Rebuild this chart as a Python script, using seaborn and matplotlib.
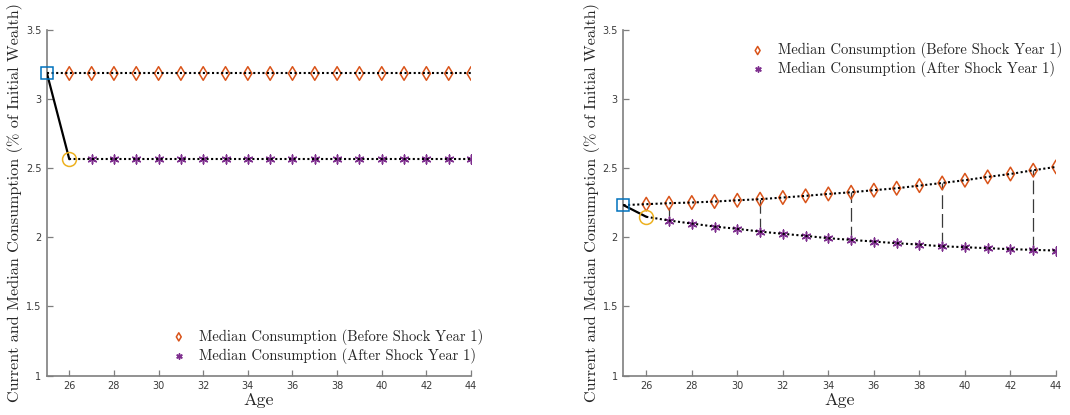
import numpy as np
import pandas as pd
import matplotlib
matplotlib.use("Agg")
import matplotlib.pyplot as plt
import seaborn as sns

# ---- data ----
ages = list(range(25, 45))

# Panel 1: flat profiles
left_current_before = 3.183
left_current_after = 2.564
left_before = [3.183] * 19          # ages 26..44
left_after = [2.564] * 18           # ages 27..44

# Panel 2: diverging profiles
right_current_before = 2.232
right_current_after = 2.148
right_before = [2.239, 2.246, 2.251, 2.258, 2.267, 2.275, 2.287, 2.299, 2.313, 2.325,
                2.340, 2.354, 2.373, 2.392, 2.412, 2.436, 2.457, 2.484, 2.508]
right_after = [2.121, 2.099, 2.077, 2.061, 2.041, 2.025, 2.010, 1.993, 1.981, 1.969,
               1.957, 1.947, 1.935, 1.928, 1.921, 1.914, 1.909, 1.904]
gap_ages = [27, 31, 35, 39, 43]

xticks = list(range(26, 45, 2))
yticks = [1, 1.5, 2, 2.5, 3, 3.5]
ytick_labels = ["1", "1.5", "2", "2.5", "3", "3.5"]

legend_labels = ["Median Consumption (Before Shock Year 1)",
                 "Median Consumption (After Shock Year 1)"]
ylabel = "Current and Median Consumption (% of Initial Wealth)"
xlabel = "Age"

# ---- style ----
sns.set_style("white")
plt.rcParams["font.family"] = ["DejaVu Sans"]

C_BEFORE = "#D95319"
C_AFTER = "#7E2F8E"
C_SQUARE = "#0072BD"
C_CIRCLE = "#EDB120"
AXIS_GRAY = "#7f7f7f"
SERIF = ["cmr10", "DejaVu Serif"]
ASTER = (6, 2, 0)

fig = plt.figure(figsize=(10.7, 4.15), dpi=100)
ax_l = fig.add_axes([0.0439, 0.0947, 0.3963, 0.834])
ax_r = fig.add_axes([0.5827, 0.0947, 0.4042, 0.834])


def draw_panel(ax, cur_b, cur_a, before, after, gaps):
    a_before = ages[1:]
    a_after = ages[2:]
    before_all = [cur_b] + before
    after_all = [cur_a] + after

    # vertical gap markers between the two profiles
    for g in gaps:
        yb = before_all[ages.index(g)]
        ya = after_all[ages.index(g) - 1]
        ax.plot([g, g], [ya, yb], color="#3a3a3a", lw=0.9,
                linestyle=(0, (11, 4)), zorder=1)

    sns.scatterplot(x=a_before, y=before, ax=ax, marker="d", s=48,
                    facecolor="none", edgecolor=C_BEFORE, linewidth=1.1,
                    zorder=2, label=legend_labels[0])
    sns.scatterplot(x=a_after, y=after, ax=ax, marker=ASTER, s=40,
                    color=C_AFTER, edgecolor=C_AFTER, linewidth=1.1,
                    zorder=2, label=legend_labels[1])

    # dotted profile lines drawn over the markers
    sns.lineplot(x=ages, y=before_all, ax=ax, color="black", lw=1.5,
                 linestyle=(0, (1, 1.2)), zorder=3, legend=False)
    sns.lineplot(x=ages[1:], y=after_all, ax=ax, color="black", lw=1.5,
                 linestyle=(0, (1, 1.2)), zorder=3, legend=False)

    # current consumption jump
    ax.plot([25, 26], [cur_b, cur_a], color="black", lw=1.6, zorder=4)
    ax.plot([25], [cur_b], marker="s", ms=8.5, mfc="none", mec=C_SQUARE,
            mew=1.1, zorder=5, clip_on=False)
    ax.plot([26], [cur_a], marker="o", ms=10, mfc="none", mec=C_CIRCLE,
            mew=1.1, zorder=5, clip_on=False)

    ax.set_xlim(25, 44)
    ax.set_ylim(1, 3.5)
    ax.set_xticks(xticks)
    ax.set_yticks(yticks)
    ax.set_yticklabels(ytick_labels)
    for s in ["top", "right"]:
        ax.spines[s].set_visible(False)
    for s in ["left", "bottom"]:
        ax.spines[s].set_color(AXIS_GRAY)
        ax.spines[s].set_linewidth(1.2)
    ax.tick_params(direction="in", length=4, width=0.9, color=AXIS_GRAY,
                   labelsize=7, labelcolor="#3a3a3a", pad=4, left=True,
                   bottom=True)
    ax.set_xlabel(xlabel, family=SERIF, fontsize=13, labelpad=1)
    ax.set_ylabel(ylabel, family=SERIF, fontsize=11.7, labelpad=2)


draw_panel(ax_l, left_current_before, left_current_after, left_before,
           left_after, [])
draw_panel(ax_r, right_current_before, right_current_after, right_before,
           right_after, gap_ages)

for ax, anchor in [(ax_l, (0.148, 0.222)), (ax_r, (0.689, 0.912))]:
    leg = ax.legend(loc="upper left", bbox_to_anchor=anchor,
                    bbox_transform=fig.transFigure, frameon=False,
                    prop={"family": SERIF, "size": 10.5}, handletextpad=0.37,
                    labelspacing=0.2, markerscale=0.6, borderaxespad=0)

fig.savefig("out.png", dpi=100)
